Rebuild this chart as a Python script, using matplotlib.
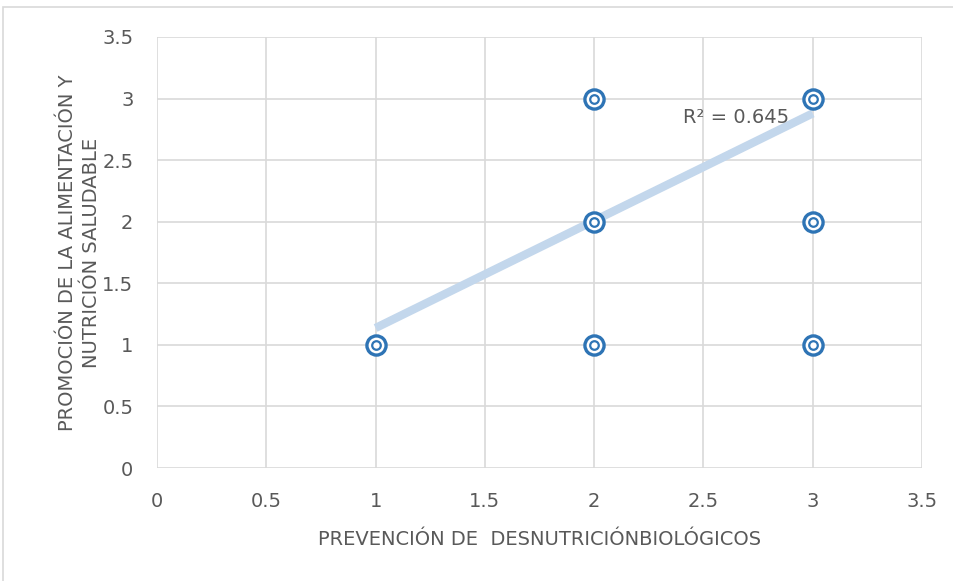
import numpy as np
import matplotlib
matplotlib.use("Agg")
import matplotlib.pyplot as plt
from matplotlib.patches import Rectangle

# ---------- Datos (puntos repetidos = respuestas iguales) ----------
x_vals = [1, 2, 2, 2, 3, 3, 3]
y_vals = [1, 1, 2, 3, 1, 2, 3]
conteos = [7, 1, 6, 3, 1, 1, 15]
r2_texto = 0.645

x_lbl = "PREVENCIÓN DE  DESNUTRICIÓNBIOLÓGICOS"
y_lbl = "PROMOCIÓN DE LA ALIMENTACIÓN Y\nNUTRICIÓN SALUDABLE"

xs = np.repeat(x_vals, conteos)
ys = np.repeat(y_vals, conteos)

gris = "#595959"
azul = "#2e74b5"

plt.rcParams["font.family"] = ["DejaVu Sans"]

fig = plt.figure(figsize=(9.54, 5.81), dpi=100)
ax = fig.add_axes([157 / 954, 1 - 468 / 581, 765 / 954, 431 / 581])

# borde del gráfico
fig.patches.append(Rectangle((3 / 954, -0.05), 1.0, 1 - 7 / 581 + 0.05,
                             transform=fig.transFigure, fill=False,
                             edgecolor="#d9d9d9", lw=1.2))

# línea de tendencia
m, b = np.polyfit(xs, ys, 1)
xt = np.array([xs.min(), xs.max()])
ax.plot(xt, m * xt + b, color="#c3d7ec", lw=6, solid_capstyle="butt", zorder=2)

# puntos
ax.scatter(x_vals, y_vals, s=190, facecolor="white", edgecolor=azul, linewidth=2.4, zorder=3)
ax.scatter(x_vals, y_vals, s=38, facecolor="white", edgecolor=azul, linewidth=1.6, zorder=4)

ax.text(2.65, 2.85, f"R² = {r2_texto}", color=gris, fontsize=14, ha="center", va="center")

ax.set_xlim(0, 3.5)
ax.set_ylim(0, 3.5)
ticks = np.arange(0, 3.51, 0.5)
labels = [f"{t:g}" for t in ticks]
ax.set_xticks(ticks)
ax.set_xticklabels(labels)
ax.set_yticks(ticks)
ax.set_yticklabels(labels)
ax.tick_params(length=0, labelsize=14, colors=gris)
ax.tick_params(axis="x", pad=17)
ax.tick_params(axis="y", pad=17)
ax.grid(True, color="#d9d9d9", lw=1.2)
ax.set_axisbelow(True)
for s in ax.spines.values():
    s.set_visible(False)

ax.set_xlabel(x_lbl, color=gris, fontsize=14, labelpad=14)
ax.set_ylabel(y_lbl, color=gris, fontsize=14, labelpad=1, linespacing=1.35)

fig.savefig("out.png", dpi=100)
